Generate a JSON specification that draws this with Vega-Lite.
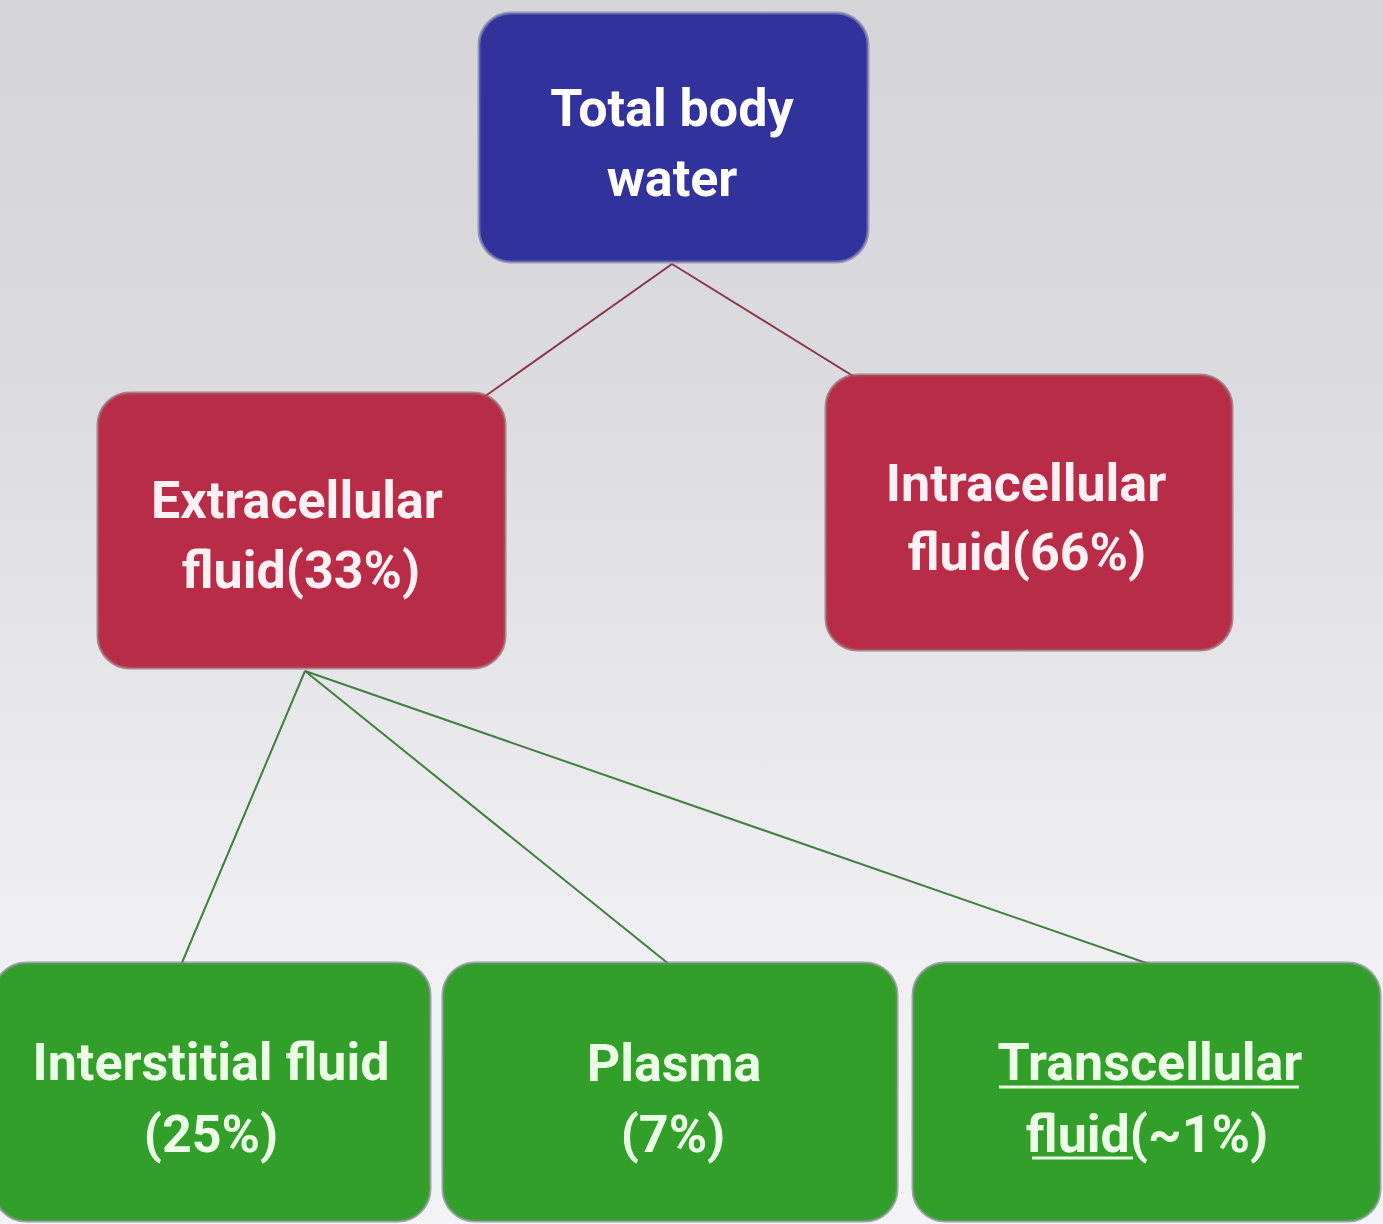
{
  "$schema": "https://vega.github.io/schema/vega-lite/v6.json",
  "width": 1383,
  "height": 1224,
  "padding": 0,
  "autosize": {"type": "none"},
  "background": "#e4e4e9",
  "config": {"view": {"stroke": null}},
  "datasets": {
    "bg": [{"x": 0, "x2": 1383, "y": 0, "y2": 1224}],
    "links": [
      {"x": 672, "y": 264, "x2": 484, "y2": 397, "kind": "red"},
      {"x": 672, "y": 264, "x2": 853, "y2": 376, "kind": "red"},
      {"x": 305, "y": 671, "x2": 181, "y2": 965, "kind": "green"},
      {"x": 305, "y": 671, "x2": 670, "y2": 965, "kind": "green"},
      {"x": 305, "y": 671, "x2": 1152, "y2": 965, "kind": "green"}
    ],
    "boxes": [
      {"name": "Total body water", "x": 479, "x2": 868, "y": 13, "y2": 262, "kind": "blue"},
      {"name": "Extracellular fluid", "x": 98, "x2": 505, "y": 393, "y2": 668, "kind": "red"},
      {"name": "Intracellular fluid", "x": 826, "x2": 1232, "y": 375, "y2": 650, "kind": "red"},
      {"name": "Interstitial fluid", "x": -6, "x2": 430, "y": 963, "y2": 1221, "kind": "green"},
      {"name": "Plasma", "x": 443, "x2": 897, "y": 963, "y2": 1221, "kind": "green"},
      {"name": "Transcellular fluid", "x": 913, "x2": 1380, "y": 963, "y2": 1221, "kind": "green"}
    ],
    "labels": [
      {"x": 672, "y": 126, "t": "Total body", "kind": "blue"},
      {"x": 672, "y": 196, "t": "water", "kind": "blue"},
      {"x": 297, "y": 518, "t": "Extracellular", "kind": "red"},
      {"x": 301, "y": 588, "t": "fluid(33%)", "kind": "red"},
      {"x": 1026, "y": 501, "t": "Intracellular", "kind": "red"},
      {"x": 1027, "y": 570, "t": "fluid(66%)", "kind": "red"},
      {"x": 211, "y": 1080, "t": "Interstitial fluid", "kind": "green"},
      {"x": 211, "y": 1152, "t": "(25%)", "kind": "green"},
      {"x": 674, "y": 1081, "t": "Plasma", "kind": "green"},
      {"x": 673, "y": 1152, "t": "(7%)", "kind": "green"},
      {"x": 1150, "y": 1080, "t": "Transcellular", "kind": "green"},
      {"x": 1147, "y": 1152, "t": "fluid(~1%)", "kind": "green"}
    ],
    "underlines": [
      {"x": 999, "x2": 1299, "y": 1087, "y2": 1087},
      {"x": 1032, "x2": 1133, "y": 1158, "y2": 1158}
    ]
  },
  "layer": [
    {
      "data": {"name": "bg"},
      "mark": {
        "type": "rect",
        "color": {
          "gradient": "linear",
          "x1": 0, "y1": 0, "x2": 0, "y2": 1,
          "stops": [
            {"offset": 0, "color": "#d4d4d9"},
            {"offset": 0.3, "color": "#dadadf"},
            {"offset": 0.55, "color": "#e5e5ea"},
            {"offset": 0.75, "color": "#eeeef3"},
            {"offset": 1, "color": "#f3f3f7"}
          ]
        }
      },
      "encoding": {
        "x": {"field": "x", "type": "quantitative", "scale": {"domain": [0, 1383], "nice": false, "zero": false}, "axis": null},
        "x2": {"field": "x2"},
        "y": {"field": "y", "type": "quantitative", "scale": {"domain": [0, 1224], "nice": false, "zero": false, "reverse": true}, "axis": null},
        "y2": {"field": "y2"}
      }
    },
    {
      "data": {"name": "links"},
      "mark": {"type": "rule", "strokeWidth": 2},
      "encoding": {
        "x": {"field": "x", "type": "quantitative", "scale": {"domain": [0, 1383], "nice": false, "zero": false}, "axis": null},
        "x2": {"field": "x2"},
        "y": {"field": "y", "type": "quantitative", "scale": {"domain": [0, 1224], "nice": false, "zero": false, "reverse": true}, "axis": null},
        "y2": {"field": "y2"},
        "color": {"field": "kind", "type": "nominal", "scale": {"domain": ["red", "green"], "range": ["#8a3646", "#427f3e"]}, "legend": null}
      }
    },
    {
      "data": {"name": "boxes"},
      "mark": {"type": "rect", "cornerRadius": 32, "strokeWidth": 3, "strokeOpacity": 0.7},
      "encoding": {
        "x": {"field": "x", "type": "quantitative", "scale": {"domain": [0, 1383], "nice": false, "zero": false}, "axis": null},
        "x2": {"field": "x2"},
        "y": {"field": "y", "type": "quantitative", "scale": {"domain": [0, 1224], "nice": false, "zero": false, "reverse": true}, "axis": null},
        "y2": {"field": "y2"},
        "fill": {"field": "kind", "type": "nominal", "scale": {"domain": ["blue", "red", "green"], "range": ["#31329b", "#b92c47", "#319f2a"]}, "legend": null},
        "stroke": {"field": "kind", "type": "nominal", "scale": {"domain": ["blue", "red", "green"], "range": ["#7c80ad", "#9e5a66", "#6f8f78"]}, "legend": null}
      }
    },
    {
      "data": {"name": "labels"},
      "mark": {"type": "text", "font": "Roboto", "fontWeight": "bold", "fontSize": 52, "align": "center", "baseline": "alphabetic"},
      "encoding": {
        "x": {"field": "x", "type": "quantitative", "scale": {"domain": [0, 1383], "nice": false, "zero": false}, "axis": null},
        "y": {"field": "y", "type": "quantitative", "scale": {"domain": [0, 1224], "nice": false, "zero": false, "reverse": true}, "axis": null},
        "text": {"field": "t"},
        "color": {"field": "kind", "type": "nominal", "scale": {"domain": ["blue", "red", "green"], "range": ["#ffffff", "#fff0f4", "#ecffe6"]}, "legend": null}
      }
    },
    {
      "data": {"name": "underlines"},
      "mark": {"type": "rule", "strokeWidth": 3, "color": "#ecffe6"},
      "encoding": {
        "x": {"field": "x", "type": "quantitative", "scale": {"domain": [0, 1383], "nice": false, "zero": false}, "axis": null},
        "x2": {"field": "x2"},
        "y": {"field": "y", "type": "quantitative", "scale": {"domain": [0, 1224], "nice": false, "zero": false, "reverse": true}, "axis": null},
        "y2": {"field": "y2"}
      }
    }
  ],
  "resolve": {"scale": {"color": "independent"}}
}
